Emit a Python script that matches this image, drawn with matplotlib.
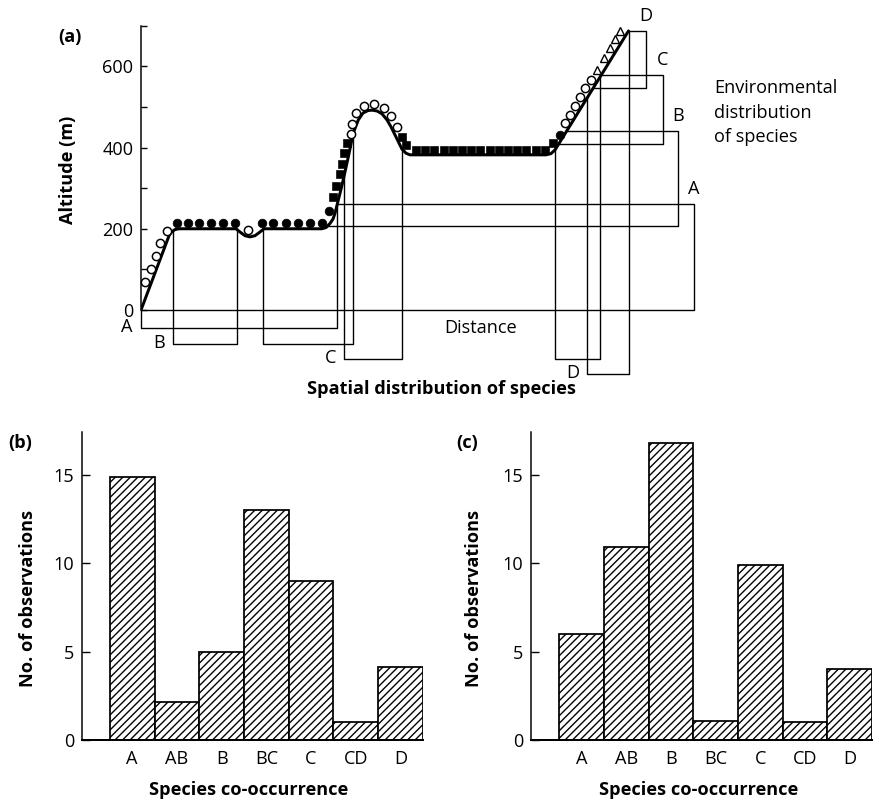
import numpy as np
import matplotlib
matplotlib.use("Agg")
import matplotlib.pyplot as plt

plt.rcParams['font.family'] = ['Open Sans', 'DejaVu Sans']
plt.rcParams['hatch.linewidth'] = 1.1
plt.rcParams['hatch.color'] = 'black'

# ---------------- Panel (a): altitude profile along a transect ----------------
terrain_dist = [0, 28.3, 31, 34, 38, 95, 99, 104, 109, 114, 119, 123, 180.7, 185,
                189, 192, 194, 197.3, 200.7, 204, 207.3, 212.3, 217.3, 222, 227,
                231, 236, 241, 246, 250, 254, 258, 261, 265, 269, 405, 410, 414,
                417, 487.5]
terrain_alt = [0, 184.6, 193, 198, 200, 200, 192, 183, 180, 183, 192, 200, 200, 203,
               213, 224, 238, 271, 304, 340, 377, 436, 468, 485, 491, 492, 490,
               483, 468, 451, 431, 411, 396, 386, 382, 382, 385, 394, 406, 687]

# species records along the profile
open_circle_dist = [4, 9.7, 14.7, 19, 26.3, 107.3,
                    209.7, 211.3, 215, 223, 233.3, 243, 250, 256.3,
                    424.5, 429.5, 434.5, 439.5, 444.5, 450]
open_circle_alt = [70, 101, 134, 164, 194, 197,
                   433, 458, 486, 503, 506, 498, 478, 450,
                   460, 481, 503, 524, 546, 566]

filled_circle_dist = [35.7, 47.3, 58.3, 70, 81.7, 94,
                      120.7, 132.3, 145, 156.7, 169, 181.3, 188, 419]
filled_circle_alt = [215, 215, 215, 215, 215, 215,
                     215, 215, 215, 215, 215, 215, 244, 432]

square_dist = [192.5, 195, 199, 200.7, 203, 206.3, 260.7, 265,
               275, 284, 293, 303, 312, 321, 330, 339, 349, 358, 367, 376, 385,
               395, 404, 412.3]
square_alt = [279, 305, 334, 359, 386, 410, 425, 406,
              394, 394, 394, 394, 394, 394, 394, 394, 394, 394, 394, 394, 394,
              394, 394, 410]

triangle_dist = [456.3, 463.3, 469, 474, 479]
triangle_alt = [591, 621, 644, 666, 688]

# environmental (altitude) range of each species
env_species = ['A', 'B', 'C', 'D']
env_low = [0, 207, 408, 546]
env_high = [261, 441, 578, 687]

# spatial (distance) range of each species
spatial_species = ['A', 'B', 'C', 'D']
spatial_ranges = [[(0, 196)],
                  [(31.7, 95.7), (122.3, 212.3)],
                  [(203.3, 260.7), (414, 459)],
                  [(446, 488)]]

# ---------------- Panels (b) and (c): co-occurrence counts ----------------
cooccurrence = ['A', 'AB', 'B', 'BC', 'C', 'CD', 'D']
obs_b = [14.9, 2.15, 5, 13, 9, 1, 4.15]
obs_c = [6, 10.9, 16.8, 1.05, 9.9, 1, 4]

# ---------------- layout ----------------
W, H, DPI = 875, 802, 90
fig = plt.figure(figsize=(W / DPI, H / DPI), dpi=DPI)


def rect(l, t, r, b):
    return [l / W, 1 - b / H, (r - l) / W, (b - t) / H]


def ftext(x, y, s, **kw):
    fig.text(x / W, 1 - y / H, s, **kw)


FS = 14.5
LW_BOX = 1.1

# box placement for panel (a)
env_box_right = [553, 537, 522, 505]
spatial_box_bottom = [-43.6, -83, -120, -157.6]

ax = fig.add_axes(rect(141, 15.5, 741, 381.1))
ax.set_xlim(0, 600)
ax.set_ylim(-175, 725)
for s in ['top', 'right', 'bottom']:
    ax.spines[s].set_visible(False)
ax.spines['left'].set_bounds(0, 700)
ax.spines['left'].set_linewidth(1.2)
ax.set_xticks([])
ax.set_yticks([0, 200, 400, 600])
ax.set_yticks([100, 300, 500, 700], minor=True)
ax.tick_params(axis='y', which='both', direction='in', length=4.5, width=1.1,
               labelsize=FS, pad=6)
ax.patch.set_visible(False)

td = np.array(terrain_dist, float)
ta = np.array(terrain_alt, float)


def rightmost_crossing(alt):
    for i in range(len(td) - 2, -1, -1):
        a0, a1 = ta[i], ta[i + 1]
        if a0 != a1 and min(a0, a1) <= alt <= max(a0, a1):
            return td[i] + (alt - a0) * (td[i + 1] - td[i]) / (a1 - a0)
    return td[0]


for sp, lo, hi, xr in zip(env_species, env_low, env_high, env_box_right):
    x_lo = rightmost_crossing(lo)
    x_hi = rightmost_crossing(hi)
    ax.plot([x_lo, xr, xr, x_hi], [lo, lo, hi, hi], color='black', lw=LW_BOX,
            zorder=2, clip_on=False)
    ax.annotate(sp, (xr, hi), xytext=(0, 15), textcoords='offset pixels',
                ha='center', va='center', fontsize=FS, annotation_clip=False)

for sp, ranges, yb in zip(spatial_species, spatial_ranges, spatial_box_bottom):
    for d0, d1 in ranges:
        a0 = np.interp(d0, td, ta)
        a1 = np.interp(d1, td, ta)
        ax.plot([d0, d0, d1, d1], [a0, yb, yb, a1], color='black', lw=LW_BOX,
                zorder=2, clip_on=False)
    ax.annotate(sp, (ranges[0][0], yb), xytext=(-14, 1), textcoords='offset pixels',
                ha='center', va='center', fontsize=FS, annotation_clip=False)

ax.plot(td, ta, color='black', lw=2.4, solid_capstyle='round',
        solid_joinstyle='round', zorder=3)

ax.plot(open_circle_dist, open_circle_alt, 'o', ms=6.6, mfc='white', mec='black',
        mew=1.2, zorder=4, clip_on=False)
ax.plot(filled_circle_dist, filled_circle_alt, 'o', ms=7, mfc='black', mec='black',
        mew=0.5, zorder=4)
ax.plot(square_dist, square_alt, 's', ms=6, mfc='black', mec='black', mew=0.5,
        zorder=4)
ax.plot(triangle_dist, triangle_alt, '^', ms=6.4, mfc='white', mec='black', mew=1.1,
        zorder=4, clip_on=False)

ftext(70, 37, '(a)', fontsize=FS, fontweight='bold', ha='center', va='center')
ftext(68, 170, 'Altitude (m)', fontsize=FS, fontweight='bold', rotation=90,
      ha='center', va='center')
ftext(481, 328, 'Distance', fontsize=FS, ha='center', va='center')
ftext(442, 389, 'Spatial distribution of species', fontsize=FS, fontweight='bold',
      ha='center', va='center')
ftext(714, 112.7, 'Environmental\ndistribution\nof species', fontsize=FS,
      ha='left', va='center', linespacing=1.45)

# ---------------- bar panels ----------------
PX_PER_BAR = 44.71
PX_PER_OBS = 17.67


def bar_panel(left_px, values, tag, tag_x, ylabel_x, xlabel_x):
    x0, x1 = -1.13, 6.5
    axb = fig.add_axes(rect(left_px, 432, left_px + (x1 - x0) * PX_PER_BAR, 740))
    axb.set_xlim(x0, x1)
    axb.set_ylim(0, (740 - 432) / PX_PER_OBS)
    axb.bar(range(len(values)), values, width=1, color='white', edgecolor='black',
            hatch='////', linewidth=1.4, zorder=2)
    for s in ['top', 'right']:
        axb.spines[s].set_visible(False)
    axb.spines['left'].set_linewidth(1.2)
    axb.spines['bottom'].set_linewidth(1.6)
    axb.set_xticks(range(len(cooccurrence)))
    axb.set_xticklabels(cooccurrence)
    axb.set_yticks([0, 5, 10, 15])
    axb.tick_params(axis='x', length=0, pad=8, labelsize=FS)
    axb.tick_params(axis='y', direction='in', length=6.5, width=1.1, pad=6,
                    labelsize=FS)
    axb.patch.set_visible(False)
    ftext(tag_x, 442.7, tag, fontsize=FS, fontweight='bold', ha='center', va='center')
    ftext(ylabel_x, 598.7, 'No. of observations', fontsize=FS, fontweight='bold',
          rotation=90, ha='center', va='center')
    ftext(xlabel_x, 790, 'Species co-occurrence', fontsize=FS, fontweight='bold',
          ha='center', va='center')
    return axb


bar_panel(81.7, obs_b, '(b)', 20, 27.7, 249)
bar_panel(531, obs_c, '(c)', 467.5, 473.8, 698.7)

fig.savefig('out.png', dpi=DPI)
